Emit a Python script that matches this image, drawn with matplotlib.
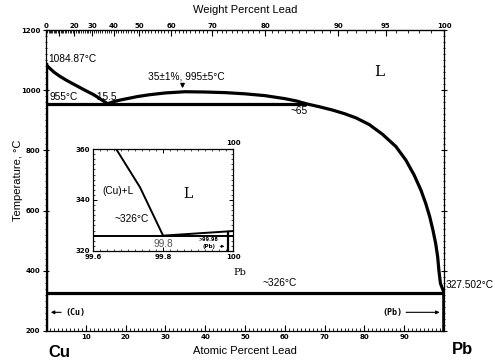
import numpy as np
import matplotlib
matplotlib.use("Agg")
import matplotlib.pyplot as plt
from matplotlib.ticker import MultipleLocator, FixedLocator

# --- data (atomic % Pb, temperature in C) ---
cu_liq_at = [0, 1, 2, 3.5, 5, 6.8, 8.5, 10.2, 12, 13.5, 15.5]
cu_liq_t = [1084.87, 1072, 1060, 1046, 1034, 1021, 1009, 997, 985, 972, 955]

dome_at = [15.5, 17, 18.5, 20, 23, 26, 30, 35, 40, 45, 50, 55, 60, 63, 65]
dome_t = [955, 962, 967, 971, 979, 985, 991, 995, 994, 992, 988, 982, 972, 964, 956]

pb_liq_at = [65, 68.7, 72.0, 75.0, 77.9, 81.2, 84.5, 87.9, 90.4, 92.5, 94.2,
             95.4, 96.4, 97.2, 97.9, 98.4, 98.7, 99.1, 100]
pb_liq_t = [956, 945, 934, 922, 908, 886, 854, 813, 768, 718, 668,
            624, 580, 536, 491, 447, 403, 358, 327.502]

monotectic_t = 955
monotectic_at = [0, 65]
eutectic_t = 326
cu_melt = 1084.87
pb_melt = 327.502

wt_ticks = [0, 10, 20, 30, 40, 50, 60, 70, 80, 90, 95, 100]
wt_labels = ["0", "", "20", "30", "40", "50", "60", "70", "80", "90", "95", "100"]
at_ticks = [10, 20, 30, 40, 50, 60, 70, 80, 90]
t_ticks = [200, 400, 600, 800, 1000, 1200]

# inset (Pb-rich corner)
in_liq_at = [99.666, 99.734, 99.8]
in_liq_t = [360, 345, 326]
in_pb_liq_at = [99.8, 100]
in_pb_liq_t = [326, 327.8]
in_solvus_at = [99.985, 99.985]
in_solvus_t = [327.6, 320]

M_PB, M_CU = 207.2, 63.546


def wt_to_at(w):
    w = np.clip(np.asarray(w, dtype=float), 0, 100)
    a = w / M_PB
    b = (100 - w) / M_CU
    return 100 * a / np.where(a + b == 0, 1, a + b)


def at_to_wt(x):
    x = np.clip(np.asarray(x, dtype=float), 0, 100)
    a = x * M_PB
    b = (100 - x) * M_CU
    return 100 * a / np.where(a + b == 0, 1, a + b)


narrow = ["Liberation Sans", "DejaVu Sans"]
tickfont = dict(fontsize=5, fontweight="bold", family="DejaVu Sans")

fig = plt.figure(figsize=(4.95, 3.6), dpi=100)
ax = fig.add_axes([0.093, 0.0806, 0.804, 0.836])

lw = 2.3
ax.plot(cu_liq_at, cu_liq_t, color="black", lw=lw, solid_capstyle="butt")
ax.plot(dome_at, dome_t, color="black", lw=lw, solid_joinstyle="round")
ax.plot(pb_liq_at, pb_liq_t, color="black", lw=lw, solid_joinstyle="round")
ax.plot(monotectic_at, [monotectic_t] * 2, color="black", lw=lw)
ax.plot([0, 100], [eutectic_t] * 2, color="black", lw=lw)
ax.plot([0, 0], [200, cu_melt], color="black", lw=3.2)
ax.plot([100, 100], [200, pb_melt], color="black", lw=2.6)

ax.set_xlim(0, 100)
ax.set_ylim(200, 1200)
ax.xaxis.set_major_locator(FixedLocator(at_ticks))
ax.xaxis.set_minor_locator(MultipleLocator(1))
ax.yaxis.set_major_locator(FixedLocator(t_ticks))
ax.yaxis.set_minor_locator(MultipleLocator(20))
ax.set_xticklabels([str(t) for t in at_ticks], **tickfont)
ax.set_yticklabels([str(t) for t in t_ticks], **tickfont)
ax.tick_params(which="major", direction="in", length=4, width=0.8, pad=2)
ax.tick_params(which="minor", direction="in", length=2, width=0.6)
ax.tick_params(axis="y", which="both", direction="inout", right=True)
for s in ax.spines.values():
    s.set_linewidth(0.9)

top = ax.secondary_xaxis("top", functions=(at_to_wt, wt_to_at))
top.set_xticks(wt_ticks)
top.set_xticklabels(wt_labels, **tickfont)
top.xaxis.set_minor_locator(FixedLocator(np.arange(0, 101, 1)))
top.tick_params(which="major", direction="in", length=4, width=0.8, pad=1)
top.tick_params(which="minor", direction="in", length=2, width=0.6)

fig.text(0.495, 0.972, "Weight Percent Lead", ha="center", va="center",
         fontsize=8, family=narrow)
fig.text(0.495, 0.025, "Atomic Percent Lead", ha="center", va="center",
         fontsize=8, family=narrow)
fig.text(0.036, 0.5, "Temperature, \u00b0C", ha="center", va="center",
         rotation=90, fontsize=8, family=narrow)
fig.text(0.12, 0.022, "Cu", ha="center", va="center", fontsize=12,
         fontweight="bold", family="Liberation Sans")
fig.text(0.935, 0.028, "Pb", ha="center", va="center", fontsize=12,
         fontweight="bold", family="Liberation Sans")

ann = dict(fontsize=7.3, family=narrow)
ax.text(0.5, 1087, "1084.87\u00b0C", ha="left", va="bottom", **ann)
ax.text(0.8, 960, "955\u00b0C", ha="left", va="bottom", **ann)
ax.text(11.5, 960, "~15.5", ha="left", va="bottom", **ann)
ax.text(35.3, 1030, "35\u00b11%, 995\u00b15\u00b0C", ha="center", va="bottom", **ann)
ax.annotate("", xy=(34.3, 997), xytext=(34.3, 1028),
            arrowprops=dict(arrowstyle="-|>", color="black", lw=1, mutation_scale=6))
ax.text(63.7, 946, "~65", ha="center", va="top", **ann)
ax.text(83.7, 1060, "L", ha="center", va="center", fontsize=11,
        family="DejaVu Serif")
ax.text(58.6, 359, "~326\u00b0C", ha="center", va="center", **ann)
ax.text(100.3, 335, "327.502\u00b0C", ha="left", va="bottom", clip_on=False, **ann)
ax.text(89.5, 262, "(Pb)", ha="right", va="center", fontsize=6,
        fontweight="bold", family="DejaVu Sans Mono")
ax.annotate("", xy=(99.6, 262), xytext=(89.8, 262),
            arrowprops=dict(arrowstyle="-|>", color="black", lw=0.8, mutation_scale=5))
ax.text(4.8, 262, "(Cu)", ha="left", va="center", fontsize=6,
        fontweight="bold", family="DejaVu Sans Mono")
ax.annotate("", xy=(0.5, 262), xytext=(4.5, 262),
            arrowprops=dict(arrowstyle="-|>", color="black", lw=0.8, mutation_scale=5))

# --- inset ---
ai = fig.add_axes([0.188, 0.303, 0.283, 0.283])
ai.plot(in_liq_at, in_liq_t, color="black", lw=1.4)
ai.plot([99.6, 100], [eutectic_t] * 2, color="black", lw=1.4)
ai.plot(in_pb_liq_at, in_pb_liq_t, color="black", lw=1.4)
ai.plot(in_solvus_at, in_solvus_t, color="black", lw=1.6)
ai.set_xlim(99.6, 100)
ai.set_ylim(320, 360)
ai.xaxis.set_major_locator(FixedLocator([99.6, 99.8, 100]))
ai.xaxis.set_minor_locator(MultipleLocator(0.02))
ai.yaxis.set_major_locator(FixedLocator([320, 340, 360]))
ai.yaxis.set_minor_locator(MultipleLocator(2))
ai.set_xticklabels(["99.6", "99.8", "100"], **tickfont)
ai.set_yticklabels(["320", "340", "360"], **tickfont)
ai.tick_params(which="major", direction="in", length=3, width=0.7, pad=2,
               top=True, right=True)
ai.tick_params(which="minor", direction="in", length=1.5, width=0.5,
               top=True, right=True)
for s in ai.spines.values():
    s.set_linewidth(0.9)

ai.text(100, 361, "100", ha="center", va="bottom", **tickfont)
ai.text(99.67, 343.5, "(Cu)+L", ha="center", va="center", **ann)
ai.text(99.87, 342.5, "L", ha="center", va="center", fontsize=10,
        family="DejaVu Serif")
ai.text(99.71, 332.5, "~326\u00b0C", ha="center", va="center", **ann)
ai.text(99.8, 322.6, "99.8", ha="center", va="center", color="#555555", **ann)
ai.text(99.93, 324.6, ">99.98", ha="center", va="center", fontsize=3.5,
        fontweight="bold")
ai.text(99.93, 321.8, "(Pb)", ha="center", va="center", fontsize=4,
        fontweight="bold")
ai.annotate("", xy=(99.983, 321.8), xytext=(99.955, 321.8),
            arrowprops=dict(arrowstyle="-|>", color="black", lw=0.6, mutation_scale=4))
fig.text(0.485, 0.242, "Pb", ha="center", va="center", fontsize=7,
         family="DejaVu Serif")

fig.savefig("out.png", dpi=100)
